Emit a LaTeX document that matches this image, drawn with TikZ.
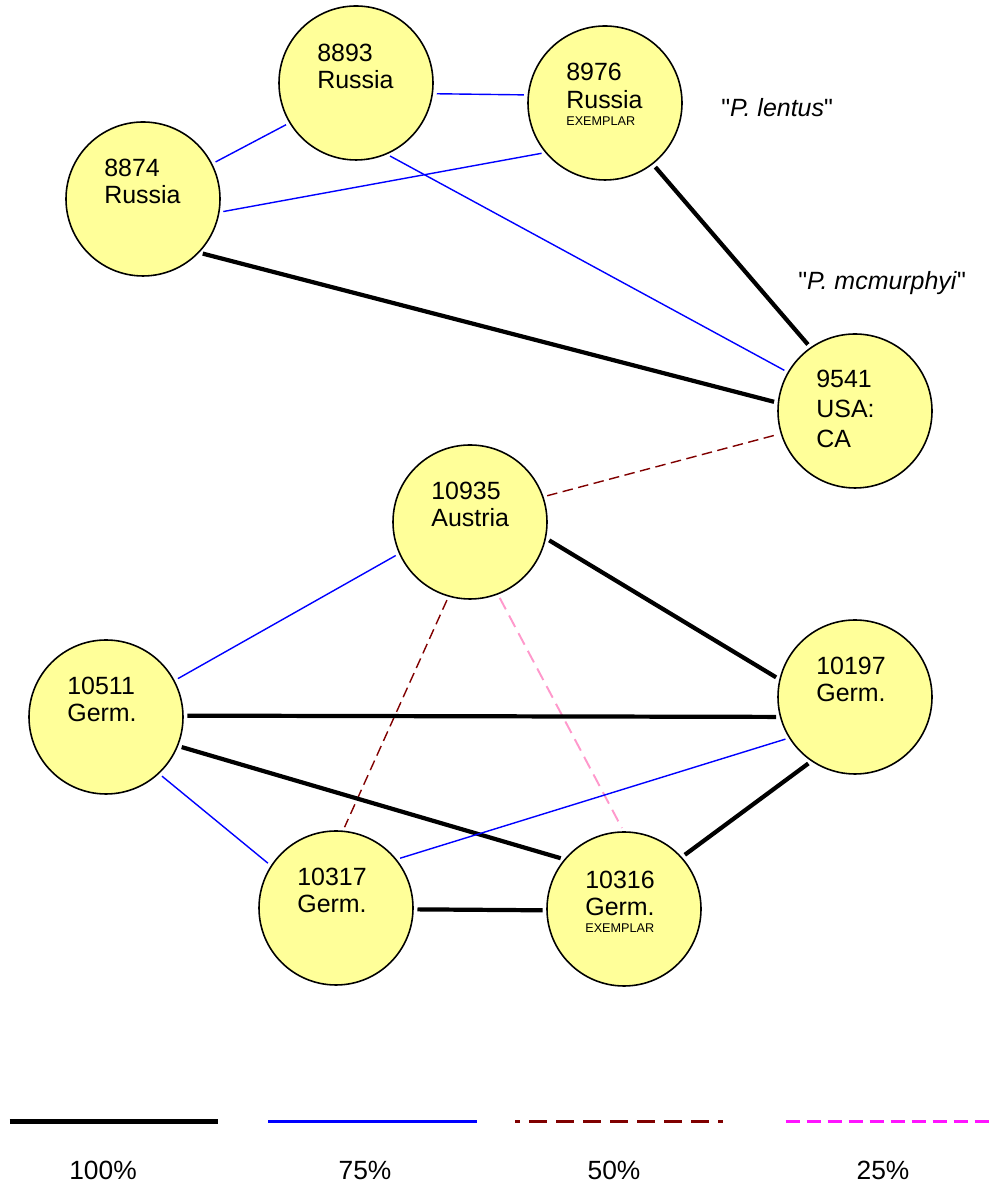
\documentclass[tikz,border=0pt]{standalone}
\usepackage{fontspec}
\setmainfont{Liberation Sans}[Ligatures=TeXOff]
\usepackage{tikz}
\usetikzlibrary{shapes,positioning}
\definecolor{paleyellow}{RGB}{255,255,153}
\definecolor{darkred}{RGB}{128,0,0}
\definecolor{softpink}{RGB}{255,153,204}
\definecolor{legendpink}{RGB}{255,20,255}
\tikzstyle{isolate} = [circle, minimum size=3.08cm, inner sep=0pt, outer sep=0pt, draw=black, line width=0.9pt, fill=paleyellow]
\tikzstyle{tag} = [anchor=base west, align=left, inner sep=0pt, font=\fontsize{14.2}{15.4}\selectfont]
\tikzstyle{full} = [line width=2.4pt, shorten <=0.09cm, shorten >=0.09cm]
\tikzstyle{high} = [blue, line width=0.8pt, shorten <=0.09cm, shorten >=0.09cm]
\tikzstyle{half} = [darkred, line width=0.8pt, dash pattern=on 0.21cm off 0.11cm, shorten <=0.09cm, shorten >=0.09cm]
\tikzstyle{quarter} = [softpink, line width=1.1pt, dash pattern=on 0.26cm off 0.14cm, shorten <=0.09cm, shorten >=0.09cm]
\tikzstyle{key} = [anchor=base, inner sep=0pt, font=\fontsize{15}{16}\selectfont]

\begin{document}
\begin{tikzpicture}
\useasboundingbox (0,0) rectangle (19.9,23.76);

% isolates
\node (n8893) [isolate] at (7.12,22.10) {};
\node (n8976) [isolate] at (12.10,21.70) {};
\node (n8874) [isolate] at (2.86,19.78) {};
\node (n9541) [isolate] at (17.10,15.54) {};
\node (n10935) [isolate] at (9.40,13.32) {};
\node (n10511) [isolate] at (2.12,9.42) {};
\node (n10197) [isolate] at (17.10,9.82) {};
\node (n10317) [isolate] at (6.72,5.60) {};
\node (n10316) [isolate] at (12.48,5.58) {};

% base anchor sits on the last line
\node (t8893) [tag, xshift=-0.78cm, yshift=-0.12cm] at (n8893) {8893\\Russia};
\node (t8976) [tag, xshift=-0.78cm, yshift=-0.46cm] at (n8976) {8976\\Russia\\[-5.2pt]{\fontsize{7.2}{8}\selectfont EXEMPLAR}};
\node (t8874) [tag, xshift=-0.78cm, yshift=-0.10cm] at (n8874) {8874\\Russia};
\node (t9541) [tag, xshift=-0.78cm, yshift=-0.73cm] at (n9541) {9541\\[1.6pt]USA:\\[1.6pt]CA};
\node (t10935) [tag, xshift=-0.78cm, yshift=-0.10cm] at (n10935) {10935\\Austria};
\node (t10511) [tag, xshift=-0.78cm, yshift=-0.10cm] at (n10511) {10511\\Germ.};
\node (t10197) [tag, xshift=-0.78cm, yshift=-0.10cm] at (n10197) {10197\\Germ.};
\node (t10317) [tag, xshift=-0.78cm, yshift=-0.10cm] at (n10317) {10317\\Germ.};
\node (t10316) [tag, xshift=-0.78cm, yshift=-0.48cm] at (n10316) {10316\\Germ.\\[-5.2pt]{\fontsize{7.2}{8}\selectfont EXEMPLAR}};

\node (lentus) [tag] at (14.42,21.42) {"\textit{P. lentus}"};
\node (mcmurphyi) [tag] at (15.96,17.96) {"\textit{P. mcmurphyi}"};

% similarity links
\draw [high] (n8893.-8) -- (n8976.174);
\draw [high] (n8874.27) -- (n8893.-149);
\draw [high] (n8874.-10) -- (n8976.-140);
\draw [high] (n8893.-67) -- (n9541.150);
\draw [full] (n8874.-44) -- (n9541.174);
\draw [full] (n8976.-52) -- (n9541.125);
\draw [half] (n10935.19) -- (n9541.-163);
\draw [high] (n10935.-156) -- (n10511.28);
\draw [full] (n10935.-12) -- (n10197.167);
\draw [half] (n10935.-106) -- (n10317.85);
\draw [quarter] (n10935.-69) -- (n10316.90);
\draw [full] (n10511.1) -- (n10197.-165);
\draw [full] (n10511.-22) -- (n10316.140);
\draw [high] (n10511.-47) -- (n10317.147);
\draw [high] (n10317.39) -- (n10197.-148);
\draw [full] (n10317.-1) -- (n10316.-179);
\draw [full] (n10316.42) -- (n10197.-124);

% legend
\coordinate (k100a) at (0.19,1.33);
\coordinate (k100b) at (4.35,1.33);
\coordinate (k75a) at (5.36,1.33);
\coordinate (k75b) at (9.53,1.33);
\coordinate (k50a) at (10.30,1.33);
\coordinate (k50b) at (14.45,1.33);
\coordinate (k25a) at (15.71,1.33);
\coordinate (k25b) at (19.84,1.33);
\draw [line width=3.1pt] (k100a) -- (k100b);
\draw [blue, line width=1.5pt] (k75a) -- (k75b);
\draw [darkred, line width=1.7pt, dash pattern=on 0.36cm off 0.18cm, dash phase=0.26cm] (k50a) -- (k50b);
\draw [legendpink, line width=1.2pt, dash pattern=on 0.28cm off 0.14cm] (k25a) -- (k25b);
\node (l100) [key] at (2.06,0.16) {100\%};
\node (l75) [key] at (7.30,0.16) {75\%};
\node (l50) [key] at (12.28,0.16) {50\%};
\node (l25) [key] at (17.66,0.16) {25\%};
\end{tikzpicture}
\end{document}
